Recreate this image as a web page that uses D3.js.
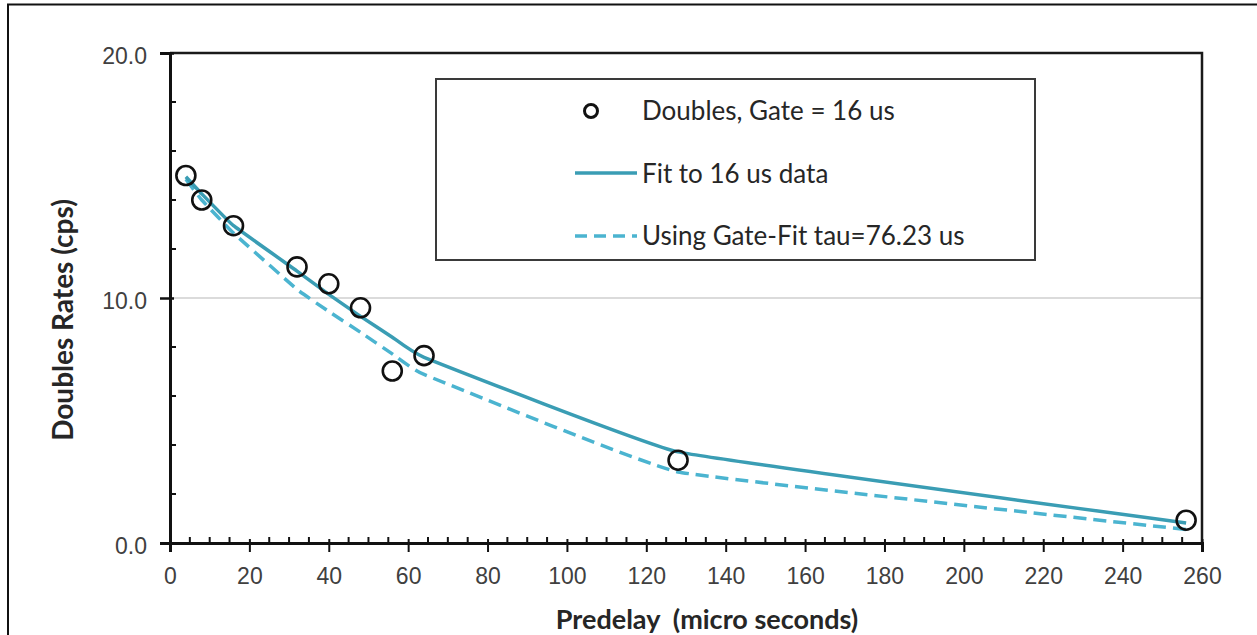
<!DOCTYPE html>
<html>
<head>
<meta charset="utf-8">
<script src="https://cdn.jsdelivr.net/npm/d3@7"></script>
<style>
  body { margin: 0; background: #fff; }
  svg { display: block; font-family: Lato, "Open Sans", sans-serif; }
</style>
</head>
<body>
<svg id="chart" width="1257" height="635"></svg>
<script>
// predelay values (micro seconds)
const predelay = [4, 8, 16, 32, 40, 48, 56, 64, 128, 256]
// measured doubles, gate = 16 us
const doubles = [15.0, 14.0, 12.95, 11.27, 10.58, 9.6, 7.02, 7.65, 3.38, 0.93]
// fit to 16 us data
const fit16 = [14.95, 14.25, 12.95, 11.1, 10.15, 9.25, 8.4, 7.58, 3.72, 0.82]
// using gate-fit tau = 76.23 us
const gateFit = [14.85, 14.0, 12.65, 10.35, 9.45, 8.6, 7.72, 6.88, 2.9, 0.55]

const xTicks = d3.range(0, 261, 20)
const yTicks = [0, 10, 20]

const svg = d3.select("#chart")
const margin = {left: 170, top: 53, right: 1202, bottom: 543}

const x = d3.scaleLinear().domain([0, 260]).range([margin.left, margin.right])
const y = d3.scaleLinear().domain([0, 20]).range([margin.bottom, margin.top])

// outer frame (left and top only are visible)
svg.append("path")
    .attr("d", `M8,635 L8,4.5 L1257,4.5`)
    .attr("fill", "none")
    .attr("stroke", "#111")
    .attr("stroke-width", 2)

// gridline at 10
svg.append("line")
    .attr("x1", x(0)).attr("x2", x(260))
    .attr("y1", y(10)).attr("y2", y(10))
    .attr("stroke", "#cfcfcf").attr("stroke-width", 1.5)

// plot box top and right
svg.append("path")
    .attr("d", `M${x(0)},${y(20)} L${x(260)},${y(20)} L${x(260)},${y(0)}`)
    .attr("fill", "none").attr("stroke", "#1a1a1a").attr("stroke-width", 2.5)

// y axis
const yAxis = svg.append("g").attr("transform", `translate(${x(0)},0)`)
    .call(d3.axisLeft(y).tickValues(yTicks).tickFormat(d3.format(".1f")).tickSize(10).tickPadding(13))
yAxis.select(".domain").attr("stroke", "#111").attr("stroke-width", 3)
yAxis.selectAll(".tick line").attr("stroke", "#111").attr("stroke-width", 2.5).attr("x2", -10).attr("x1", 4)
yAxis.selectAll(".tick text").attr("fill", "#404040").style("font-size", "23px").attr("dy", "0.45em")
// minor y ticks
svg.append("g").selectAll("line")
    .data(d3.range(2, 20, 2).filter(d => d !== 10))
    .join("line")
    .attr("x1", x(0)).attr("x2", x(0) + 6)
    .attr("y1", d => y(d)).attr("y2", d => y(d))
    .attr("stroke", "#111").attr("stroke-width", 2)

// x axis
const xAxis = svg.append("g").attr("transform", `translate(0,${y(0)})`)
    .call(d3.axisBottom(x).tickValues(xTicks).tickSize(9).tickPadding(16))
xAxis.select(".domain").attr("stroke", "#111").attr("stroke-width", 3)
xAxis.selectAll(".tick line").attr("stroke", "#111").attr("stroke-width", 2).attr("y1", -4)
xAxis.selectAll(".tick text").attr("fill", "#404040").style("font-size", "23px")
// minor x ticks
svg.append("g").selectAll("line")
    .data(d3.range(5, 260, 5).filter(d => d % 20 !== 0))
    .join("line")
    .attr("x1", d => x(d)).attr("x2", d => x(d))
    .attr("y1", y(0)).attr("y2", y(0) - 6)
    .attr("stroke", "#111").attr("stroke-width", 2)

// axis titles
svg.append("text")
    .attr("x", 707).attr("y", 629)
    .attr("text-anchor", "middle")
    .style("white-space", "pre")
    .style("font-size", "27px").style("font-weight", "bold").attr("fill", "#262626")
    .text("Predelay  (micro seconds)")
svg.append("text")
    .attr("transform", "translate(73,320) rotate(-90)")
    .attr("text-anchor", "middle")
    .style("font-size", "28px").style("font-weight", "bold").attr("fill", "#262626")
    .text("Doubles Rates (cps)")

// lines
const line = d3.line().x(d => x(d[0])).y(d => y(d[1])).curve(d3.curveCardinal.tension(0.75))
svg.append("path")
    .datum(d3.zip(predelay, gateFit))
    .attr("d", line)
    .attr("fill", "none").attr("stroke", "#4bb4d0").attr("stroke-width", 3.5)
    .attr("stroke-dasharray", "13,7")
svg.append("path")
    .datum(d3.zip(predelay, fit16))
    .attr("d", line)
    .attr("fill", "none").attr("stroke", "#3a9db4").attr("stroke-width", 3.5)

// points
svg.append("g").selectAll("circle")
    .data(d3.zip(predelay, doubles))
    .join("circle")
    .attr("cx", d => x(d[0])).attr("cy", d => y(d[1]))
    .attr("r", 9.5)
    .attr("fill", "none").attr("stroke", "#111").attr("stroke-width", 2.6)

// legend
const legend = svg.append("g")
legend.append("rect")
    .attr("x", 436).attr("y", 79).attr("width", 599).attr("height", 181)
    .attr("fill", "#fff").attr("stroke", "#3a3a3a").attr("stroke-width", 2)
legend.append("circle")
    .attr("cx", 591).attr("cy", 111).attr("r", 6.5)
    .attr("fill", "none").attr("stroke", "#111").attr("stroke-width", 3)
legend.append("line")
    .attr("x1", 575).attr("x2", 637).attr("y1", 173).attr("y2", 173)
    .attr("stroke", "#3a9db4").attr("stroke-width", 3.5)
legend.append("line")
    .attr("x1", 575).attr("x2", 637).attr("y1", 236).attr("y2", 236)
    .attr("stroke", "#4bb4d0").attr("stroke-width", 3.5).attr("stroke-dasharray", "12,7")
const labels = ["Doubles, Gate = 16 us", "Fit to 16 us data", "Using Gate-Fit tau=76.23 us"]
legend.selectAll(".lab")
    .data(labels)
    .join("text")
    .attr("class", "lab")
    .attr("x", 642).attr("y", (d, i) => 111 + i * 62.5)
    .attr("dy", "0.36em")
    .style("font-size", "26px").attr("fill", "#262626")
    .text(d => d)
</script>
</body>
</html>
